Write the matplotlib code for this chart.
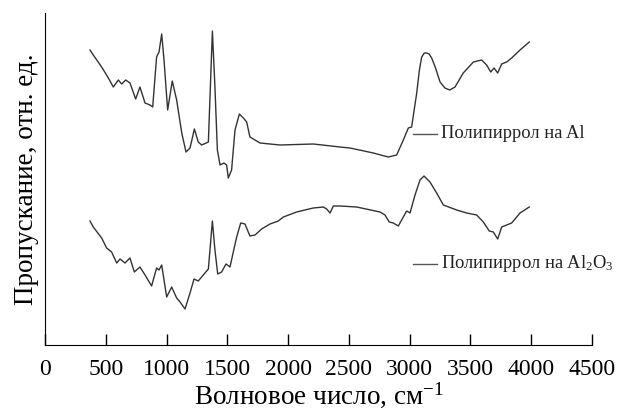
import numpy as np
import matplotlib
matplotlib.use("Agg")
import matplotlib.pyplot as plt

plt.rcParams['font.family'] = ['Liberation Serif', 'DejaVu Serif']
plt.rcParams['mathtext.fontset'] = 'custom'
plt.rcParams['mathtext.rm'] = 'Liberation Serif'
plt.rcParams['mathtext.it'] = 'Liberation Serif:italic'

# wavenumber, cm^-1 / transmittance (arb. units)
wn_al = [370, 397, 466, 521, 562, 603, 631, 664, 699, 746, 781, 823, 864, 886,
         918, 938, 960, 979, 1009, 1047, 1083, 1125, 1160, 1193, 1229, 1261,
         1289, 1344, 1377, 1398, 1418, 1440, 1472, 1494, 1508, 1535, 1563,
         1599, 1632, 1659, 1686, 1769, 1933, 2207, 2427, 2509, 2701, 2824,
         2893, 2948, 2989, 3016, 3058, 3080, 3099, 3120, 3140, 3160, 3181,
         3210, 3250, 3290, 3330, 3373, 3441, 3524, 3592, 3633, 3667, 3694,
         3724, 3757, 3798, 3839, 3908, 3984]
tr_al = [295, 290, 278, 267, 258, 265, 261, 265, 262, 246, 258, 242, 240, 238,
         288, 293, 311, 285, 235, 264, 245, 212, 193, 197, 216, 203,
         200, 203, 314, 258, 195, 180, 182, 180, 167, 175, 215,
         231, 227, 223, 208, 202, 200, 201, 198, 197, 192, 188,
         190, 205, 217, 218, 252, 275, 288, 292, 292, 291, 287,
         278, 263, 257, 255, 258, 272, 283, 285, 280, 273, 277,
         272, 281, 283, 287, 295, 303]

wn_al2o3 = [370, 397, 466, 507, 548, 590, 617, 658, 699, 735, 781, 823, 877,
            918, 938, 960, 1001, 1042, 1083, 1111, 1152, 1193, 1226, 1261,
            1302, 1344, 1377, 1398, 1421, 1453, 1489, 1522, 1549, 1577, 1610,
            1645, 1686, 1728, 1782, 1851, 1919, 1961, 2070, 2207, 2290, 2317,
            2345, 2372, 2427, 2564, 2756, 2797, 2832, 2865, 2907, 2934, 2975,
            3003, 3044, 3085, 3118, 3167, 3222, 3277, 3387, 3469, 3551, 3606,
            3655, 3688, 3724, 3757, 3798, 3839, 3908, 3984]
tr_al2o3 = [124, 118, 107, 97, 93, 82, 86, 82, 87, 73, 78, 70, 59,
            77, 75, 80, 48, 58, 47, 43, 36, 52, 66, 64,
            70, 76, 124, 95, 71, 73, 81, 78, 93, 108, 122,
            121, 109, 110, 116, 121, 124, 128, 133, 137, 138, 136,
            132, 139, 139, 138, 133, 130, 123, 122, 119, 125, 134,
            132, 150, 165, 169, 163, 152, 140, 135, 132, 130, 123,
            114, 113, 106, 118, 120, 122, 132, 138]

labels = ['Полипиррол на Al', 'Полипиррол на Al$_2$O$_3$']
label_y = [211, 81]

fig = plt.figure(figsize=(6.22, 4.13), dpi=100)
ax = fig.add_axes([45/622, 68/413, 547/622, 332/413])

ax.plot(wn_al, tr_al, color='#333333', lw=1.0, solid_joinstyle='round')
ax.plot(wn_al2o3, tr_al2o3, color='#333333', lw=1.0, solid_joinstyle='round')

for lab, y in zip(labels, label_y):
    ax.plot([3030, 3225], [y, y], color='#555555', lw=1.0)
    ax.text(3255, y, lab, fontsize=13.3, va='center', ha='left', color='#222222')

ax.set_xlim(0, 4500)
ax.set_ylim(0, 332)
ax.set_xticks(np.arange(0, 4501, 500))
ax.set_yticks([])
ax.spines['top'].set_visible(False)
ax.spines['right'].set_visible(False)
ax.tick_params(axis='x', direction='in', length=8, width=1, pad=10, labelsize=17)
ax.set_xlabel('Волновое число, см$^{-1}$', fontsize=19.5, labelpad=0)
ax.set_ylabel('Пропускание, отн. ед.', fontsize=19.5, labelpad=4)

fig.savefig('out.png', dpi=100)
